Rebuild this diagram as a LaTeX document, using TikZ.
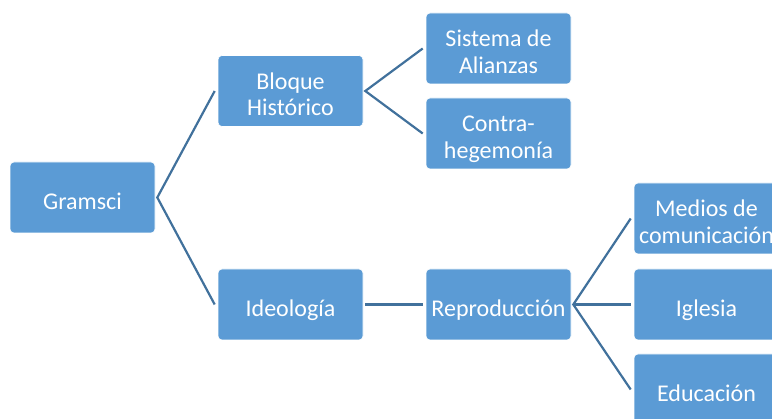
\documentclass[tikz,border=0pt]{standalone}
\usepackage{fontspec}
\setmainfont{Carlito}
\definecolor{boxblue}{HTML}{5B9BD5}
\definecolor{linkblue}{HTML}{41719C}
\newcommand{\bxt}[1]{\raisebox{-12.5pt}[0pt][0pt]{\begin{tabular}{@{}c@{}}#1\end{tabular}}}
\begin{document}
\begin{tikzpicture}[x=1pt,y=-1pt,
  box/.style={rectangle, rounded corners=4pt, fill=boxblue, draw=white, line width=0.6pt,
    minimum width=145pt, minimum height=71pt, inner sep=0pt,
    text=white, font=\fontsize{24}{26.7}\selectfont},
  link/.style={draw=linkblue, line width=2.2pt}]
\useasboundingbox (0,0) rectangle (772,419);
\node[box] (g) at (82.5,197.5) {\bxt{Gramsci}};
\node[box] (b) at (290.5,91) {\bxt{Bloque\\Histórico}};
\node[box] (i) at (290.5,304.5) {\bxt{Ideología}};
\node[box] (s) at (498.5,48.5) {\bxt{Sistema de\\Alianzas}};
\node[box] (c) at (498.5,133.5) {\bxt{Contra-\\hegemonía}};
\node[box] (r) at (498.5,304.5) {\bxt{Reproducción}};
\node[box] (m) at (706.5,218.5) {\bxt{Medios de\\comunicación}};
\node[box] (ig) at (706.5,304.5) {\bxt{Iglesia}};
\node[box] (e) at (706.5,389.5) {\bxt{Educación}};
\draw[link] ([xshift=-3pt]b.west) -- ([xshift=2pt]g.east) -- ([xshift=-3pt]i.west);
\draw[link] ([xshift=-3pt]s.west) -- ([xshift=2pt]b.east) -- ([xshift=-3pt]c.west);
\draw[link] ([xshift=2pt]i.east) -- ([xshift=-3pt]r.west);
\draw[link] ([xshift=-3pt]m.west) -- ([xshift=2pt]r.east) -- ([xshift=-3pt]e.west);
\draw[link] ([xshift=2pt]r.east) -- ([xshift=-3pt]ig.west);
\end{tikzpicture}
\end{document}
